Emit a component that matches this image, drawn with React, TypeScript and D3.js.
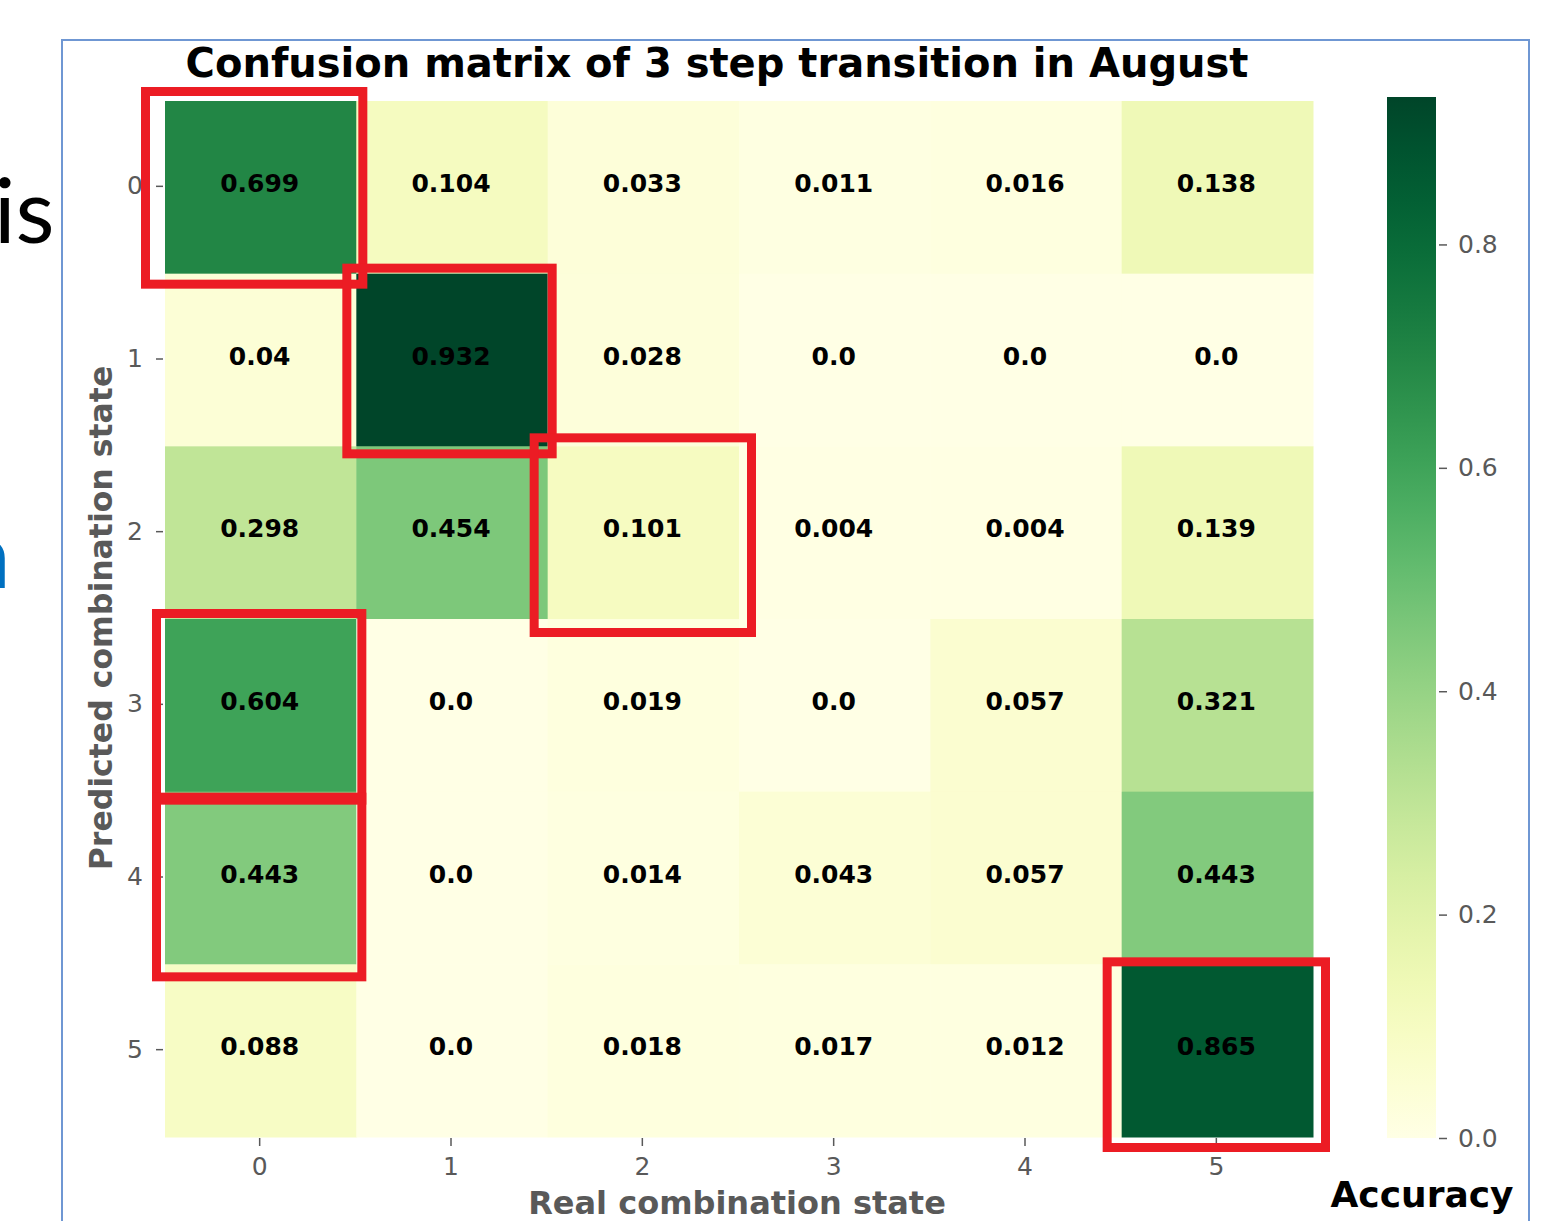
import React, { useEffect, useRef } from 'react';
import * as d3 from 'd3';

// categories (predicted = rows, real = columns)
const predictedStates = ['0', '1', '2', '3', '4', '5'];
const realStates = ['0', '1', '2', '3', '4', '5'];

// accuracy per predicted state, one list per row
const row0 = [0.699, 0.104, 0.033, 0.011, 0.016, 0.138];
const row1 = [0.04, 0.932, 0.028, 0.0, 0.0, 0.0];
const row2 = [0.298, 0.454, 0.101, 0.004, 0.004, 0.139];
const row3 = [0.604, 0.0, 0.019, 0.0, 0.057, 0.321];
const row4 = [0.443, 0.0, 0.014, 0.043, 0.057, 0.443];
const row5 = [0.088, 0.0, 0.018, 0.017, 0.012, 0.865];

const colorbarTicks = [0, 0.2, 0.4, 0.6, 0.8];

// cells boxed in red: [row, col]
const highlighted = [[0, 0], [1, 1], [2, 2], [3, 0], [4, 0], [5, 5]];
// hand drawn boxes, offsets from the cell edges: left, top, right, bottom
const boxPads = [
    [18.5, 8.5, 7.5, 11.5],
    [8.5, 4.5, 5.5, 8.5],
    [12.5, 7.5, 13.5, 14.5],
    [7.5, 4.5, 6.5, 9.5],
    [7.5, -6.5, 6.5, 13.5],
    [13.5, 1.5, 13.5, 11.5],
];

const fmt = (v: number) => (Number.isInteger(v) ? v.toFixed(1) : String(v));

const App = () => {
    const svgRef = useRef<SVGSVGElement>(null);

    useEffect(() => {
        const W = 1560;
        const H = 1221;
        const font = '"DejaVu Sans", sans-serif';
        const grey = '#595959';

        const svg = d3.select(svgRef.current);
        svg.selectAll('*').remove();
        svg.attr('width', W).attr('height', H).style('background', '#fff');

        const matrix = [row0, row1, row2, row3, row4, row5];
        const vmax = d3.max(matrix.flat()) as number;

        // slide frame and the slide text clipped behind it
        svg.append('text')
            .attr('x', -6).attr('y', 243)
            .attr('text-anchor', 'start')
            .style('font-family', 'Lato, "Open Sans", sans-serif')
            .style('font-size', '90px')
            .attr('fill', '#000')
            .text('is');
        svg.append('text')
            .attr('x', 10).attr('y', 588)
            .attr('text-anchor', 'end')
            .style('font-family', 'Lato, "Open Sans", sans-serif')
            .style('font-size', '92px')
            .style('font-weight', 'bold')
            .attr('fill', '#0070c0')
            .text('n');
        svg.append('rect')
            .attr('x', 62).attr('y', 40)
            .attr('width', 1467).attr('height', 1200)
            .attr('fill', '#fff')
            .attr('stroke', '#6f97d3')
            .attr('stroke-width', 2);

        //Scales
        const x = d3.scaleBand().domain(realStates).range([164, 1312]);
        const y = d3.scaleBand().domain(predictedStates).range([100, 1136]);
        const color = d3.scaleSequential(d3.interpolateYlGn).domain([0, vmax]);

        // cells
        const cells = matrix.flatMap((row, r) =>
            row.map((v, c) => ({ r: predictedStates[r], c: realStates[c], v }))
        );
        svg.append('g')
            .selectAll('rect')
            .data(cells)
            .join('rect')
            .attr('x', d => x(d.c)! + 1)
            .attr('y', d => y(d.r)! + 1)
            .attr('width', x.bandwidth() + 0.5)
            .attr('height', y.bandwidth() + 0.5)
            .attr('fill', d => color(d.v));

        svg.append('g')
            .selectAll('text')
            .data(cells)
            .join('text')
            .attr('x', d => x(d.c)! + x.bandwidth() / 2)
            .attr('y', d => y(d.r)! + y.bandwidth() / 2 - 3)
            .attr('dy', '0.35em')
            .attr('text-anchor', 'middle')
            .style('font-family', font)
            .style('font-size', '25px')
            .style('font-weight', 'bold')
            .attr('fill', '#000')
            .text(d => fmt(d.v));

        //Axes
        const yAxis = svg.append('g')
            .attr('transform', 'translate(163,0)')
            .call(d3.axisLeft(y).tickSize(7).tickPadding(13));
        const xAxis = svg.append('g')
            .attr('transform', 'translate(0,1138)')
            .call(d3.axisBottom(x).tickSize(8).tickPadding(11));
        [yAxis, xAxis].forEach(ax => {
            ax.select('.domain').remove();
            ax.selectAll('line').attr('stroke', grey).attr('stroke-width', 1.5);
            ax.selectAll('text')
                .attr('fill', grey)
                .style('font-family', font)
                .style('font-size', '25px');
        });

        svg.append('text')
            .attr('transform', 'translate(112,618) rotate(-90)')
            .attr('text-anchor', 'middle')
            .style('font-family', font)
            .style('font-size', '31.5px')
            .style('font-weight', 'bold')
            .attr('fill', grey)
            .text('Predicted combination state');
        svg.append('text')
            .attr('x', 737).attr('y', 1214)
            .attr('text-anchor', 'middle')
            .style('font-family', font)
            .style('font-size', '32px')
            .style('font-weight', 'bold')
            .attr('fill', grey)
            .text('Real combination state');

        svg.append('text')
            .attr('x', 717).attr('y', 77)
            .attr('text-anchor', 'middle')
            .style('font-family', font)
            .style('font-size', '40px')
            .style('font-weight', 'bold')
            .attr('fill', '#000')
            .text('Confusion matrix of 3 step transition in August');

        // colorbar
        const cb = d3.scaleLinear().domain([0, vmax]).range([1138, 97]);
        const grad = svg.append('defs').append('linearGradient')
            .attr('id', 'cbGrad')
            .attr('x1', 0).attr('y1', 1).attr('x2', 0).attr('y2', 0);
        d3.range(0, 1.0001, 0.05).forEach(t => {
            grad.append('stop')
                .attr('offset', t)
                .attr('stop-color', color(t * vmax));
        });
        svg.append('rect')
            .attr('x', 1387).attr('y', cb(vmax))
            .attr('width', 49).attr('height', cb(0) - cb(vmax))
            .attr('fill', 'url(#cbGrad)');
        const cbAxis = svg.append('g')
            .attr('transform', 'translate(1439,0)')
            .call(d3.axisRight(cb).tickValues(colorbarTicks).tickFormat(d3.format('.1f')).tickSize(8).tickPadding(11));
        cbAxis.select('.domain').remove();
        cbAxis.selectAll('line').attr('stroke', grey).attr('stroke-width', 1.5);
        cbAxis.selectAll('text')
            .attr('fill', grey)
            .style('font-family', font)
            .style('font-size', '25px');

        svg.append('text')
            .attr('x', 1422).attr('y', 1207)
            .attr('text-anchor', 'middle')
            .style('font-family', font)
            .style('font-size', '36px')
            .style('font-weight', 'bold')
            .attr('fill', '#000')
            .text('Accuracy');

        // red annotation boxes
        svg.append('g')
            .selectAll('rect')
            .data(highlighted.map((h, i) => ({ r: predictedStates[h[0]], c: realStates[h[1]], p: boxPads[i] })))
            .join('rect')
            .attr('x', d => x(d.c)! - d.p[0])
            .attr('y', d => y(d.r)! - d.p[1])
            .attr('width', d => x.bandwidth() + d.p[0] + d.p[2])
            .attr('height', d => y.bandwidth() + d.p[1] + d.p[3])
            .attr('fill', 'none')
            .attr('stroke', '#ec1c24')
            .attr('stroke-width', 9);
    }, []);

    return (
        <div style={{ position: 'absolute', left: 0, top: 0, width: 1560, height: 1221, overflow: 'hidden', background: '#fff' }}>
            <svg ref={svgRef}></svg>
        </div>
    );
};

export default App;
